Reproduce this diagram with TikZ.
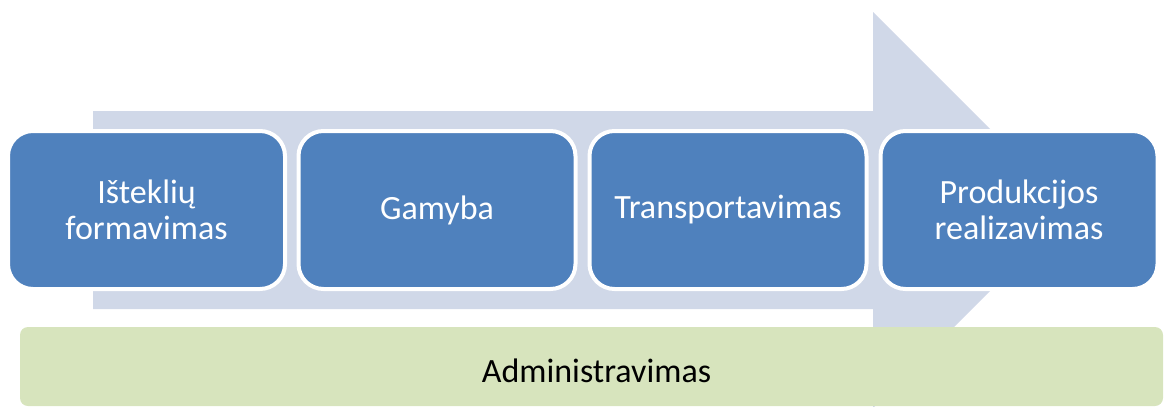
\documentclass[tikz,border=0pt]{standalone}
\usepackage{fontspec}
\setmainfont{Carlito}
\definecolor{stepblue}{HTML}{4F81BD}
\definecolor{arrowgray}{HTML}{D0D8E8}
\definecolor{admgreen}{HTML}{D7E4BD}
\begin{document}
\begin{tikzpicture}[x=1pt,y=-1pt,
  stepbox/.style={draw=white, line width=4pt, fill=stepblue, rounded corners=25pt,
    minimum width=277pt, minimum height=158pt, text=white, align=center,
    font=\fontsize{34}{36}\selectfont, inner sep=0pt},
  adminbox/.style={fill=admgreen, rounded corners=8pt, minimum width=1143pt,
    minimum height=79pt},
  admintext/.style={text=black, font=\fontsize{34}{36}\selectfont, inner sep=0pt}]
\useasboundingbox (0,0) rectangle (1165,407);
\fill[arrowgray] (93,111) -- (873,111) -- (873,12) -- (1071,210) -- (873,408)
  -- (873,309) -- (93,309) -- cycle;
\node[stepbox] (s1) at (146.5,210) {Išteklių\\formavimas};
\node[stepbox] (s2) at (437,210) {Gamyba};
\node[stepbox] (s3) at (728,210) {Transportavimas};
\node[stepbox] (s4) at (1019,210) {Produkcijos\\realizavimas};
\node[adminbox] (adm) at (591.5,366.5) {};
\node[admintext] (admt) at (596.5,370.5) {Administravimas};
\end{tikzpicture}
\end{document}
